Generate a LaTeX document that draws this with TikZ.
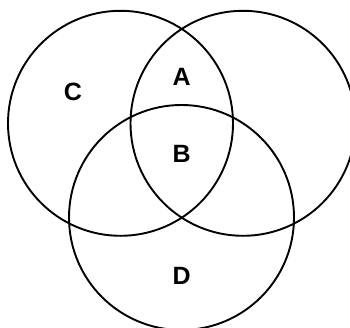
\documentclass[tikz,border=0pt]{standalone}
\usepackage{fontspec}
\setmainfont{Liberation Sans}
\usepackage{tikz}

\begin{document}
\begin{tikzpicture}[
    x=1pt, y=1pt,
    setcircle/.style={circle, draw, line width=1.9pt, minimum size=225pt, inner sep=0pt},
    region/.style={font=\bfseries\fontsize{25pt}{29pt}\selectfont, inner sep=0pt}
]

% Frame
\useasboundingbox (0,0) rectangle (350,327);
\clip (0,0) rectangle (350,327);

% Sets
\node[setcircle] (leftset) at (120.5,203.7) {};
\node[setcircle] (rightset) at (243,203.7) {};
\node[setcircle] (bottomset) at (181.5,109.5) {};

% Region labels
\node[region] (labelA) at (181.7,250.3) {A};
\node[region] (labelB) at (181.7,173) {B};
\node[region] (labelC) at (73,235) {C};
\node[region] (labelD) at (181.7,51) {D};

\end{tikzpicture}
\end{document}
